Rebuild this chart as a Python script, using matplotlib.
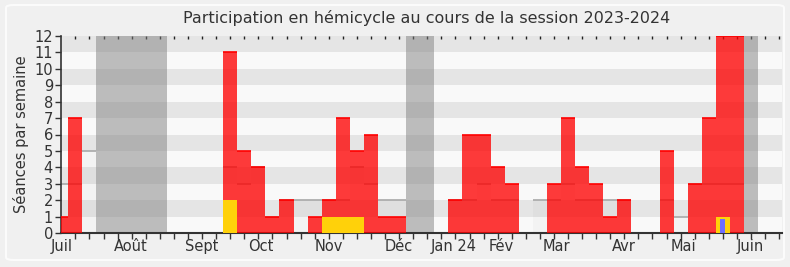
import numpy as np
import matplotlib
matplotlib.use("Agg")
from matplotlib import pyplot as plt
from matplotlib.patches import FancyBboxPatch

# semaines de la session (la premiere est une demi-semaine)
semaines = [-0.5] + list(range(0, 51))
# seances en hemicycle par semaine
presences = [1, 7, 0, 0, 0, 0, 0, 0, 0, 0, 0, 0, 11, 5, 4, 1, 2, 0, 1, 2, 7, 5, 6, 1, 1,
             0, 0, 0, 2, 6, 6, 4, 3, 0, 0, 3, 7, 4, 3, 1, 2, 0, 0, 5, 0, 3, 7, 12, 12,
             0, 0, 0]
# interventions longues (jaune) et questions (bleu)
interventions = [0, 0, 0, 0, 0, 0, 0, 0, 0, 0, 0, 0, 2, 0, 0, 0, 0, 0, 0, 1, 1, 1, 0, 0, 0,
                 0, 0, 0, 0, 0, 0, 0, 0, 0, 0, 0, 0, 0, 0, 0, 0, 0, 0, 0, 0, 0, 0, 1, 0,
                 0, 0, 0]
questions = [0, 0, 0, 0, 0, 0, 0, 0, 0, 0, 0, 0, 0, 0, 0, 0, 0, 0, 0, 0, 0, 0, 0, 0, 0,
             0, 0, 0, 0, 0, 0, 0, 0, 0, 0, 0, 0, 0, 0, 0, 0, 0, 0, 0, 0, 0, 0, 0.85, 0,
             0, 0, 0]
# mediane des deputes
mediane = [3, 3, 5, 0, 0, 0, 0, 0, 0, 0, 0, 0, 4, 3, 4, 1, 2, 2, 2, 2, 2, 4, 3, 2, 2,
           0, 0, 0, 2, 2, 3, 2, 2, 0, 2, 2, 3, 2, 2, 2, 2, 0, 0, 2, 1, 3, 3, 3, 3,
           0, 0, 0]
# vacances parlementaires (debut, fin en semaines)
vacances = [(2, 7), (24, 26), (48, 49)]

mois = ['Juil', 'Août', 'Sept', 'Oct', 'Nov', 'Déc', 'Jan 24', 'Fév', 'Mar', 'Avr', 'Mai', 'Juin']
pos_mois = [-0.47, 4.45, 9.46, 13.67, 18.47, 23.47, 27.41, 30.73, 34.66, 39.43, 43.71, 48.42]

plt.rcParams['font.family'] = ['DejaVu Sans']

fig = plt.figure(figsize=(7.9, 2.67), dpi=100, facecolor='#f0f0f0')
fig.patches.append(FancyBboxPatch((6 / 790, 7 / 267), 778 / 790, 255 / 267,
                                  boxstyle='round,pad=0,rounding_size=0.01',
                                  transform=fig.transFigure, facecolor='#f0f0f0',
                                  edgecolor='#fbfbfb', linewidth=1.5, zorder=-10))
ax = fig.add_axes([61.3 / 790, 34 / 267, 720.7 / 790, 197 / 267])
ax.set_facecolor('#f9f9f9')

# bandes horizontales
for k in range(1, 12, 2):
    ax.axhspan(k, k + 1, color='#e5e5e5', lw=0, zorder=0)

# vacances
for d, f in vacances:
    ax.axvspan(d, f, color='#808080', alpha=0.5, lw=0, zorder=1)

x = np.array(semaines, dtype=float)
larg = np.where(x < 0, 0.5, 1.0)
gauche = x
droite = x + larg
pres = np.array(presences, dtype=float)
med = np.array(mediane, dtype=float)

# mediane : zone legere + trait gris
ax.bar(gauche, med, width=larg, align='edge', color='black', alpha=0.025, lw=0, zorder=1.5)
m = med > 0
ax.hlines(med[m], gauche[m], droite[m], color='#a8a8a8', lw=1.2, zorder=2)

# seances
ax.bar(gauche, pres, width=larg, align='edge', color='#ff0000', alpha=0.77, lw=0, zorder=3)
p = pres > 0
ax.hlines(pres[p], gauche[p], droite[p], color='#ff0000', lw=1.2, zorder=3.5)

# interventions et questions
ax.bar(gauche, interventions, width=larg, align='edge', color='#ffd10a', lw=0, zorder=4)
ax.bar(x + 0.5, questions, width=0.36, align='center', color='#6e6eff', lw=0, zorder=5)

ax.set_xlim(-0.5, 50.7)
ax.set_ylim(0, 12)
ax.set_yticks(range(0, 13))
ax.set_xticks(pos_mois)
ax.set_xticklabels(mois)
ax.set_xticks(np.arange(0.5, 51, 1), minor=True)
ax.tick_params(axis='x', which='major', length=0, pad=4, labelsize=10.5, colors='#333333')
ax.tick_params(axis='x', which='minor', length=4, width=1, color='#333333', direction='out')
ax.tick_params(axis='y', length=4, width=1, color='#333333', labelsize=10.5,
               labelcolor='#333333', pad=2)
ax.spines['top'].set_visible(False)
ax.spines['right'].set_visible(False)
ax.spines['left'].set_color('#333333')
ax.spines['bottom'].set_color('#333333')
ax.spines['left'].set_linewidth(1.2)
ax.spines['bottom'].set_linewidth(1.5)

# petits traits en haut
haut = ax.secondary_xaxis('top')
haut.set_xticks(np.arange(0.5, 51, 1))
haut.tick_params(direction='in', length=2, width=1, color='#222222', labeltop=False)
haut.spines['top'].set_visible(False)

ax.set_ylabel('Séances par semaine', fontsize=10.5, color='#333333', labelpad=4)
fig.text(427 / 790, 1 - 18 / 267, 'Participation en hémicycle au cours de la session 2023-2024',
         ha='center', va='center', fontsize=11.5, color='#333333')

plt.savefig('out.png', dpi=100, facecolor=fig.get_facecolor())
